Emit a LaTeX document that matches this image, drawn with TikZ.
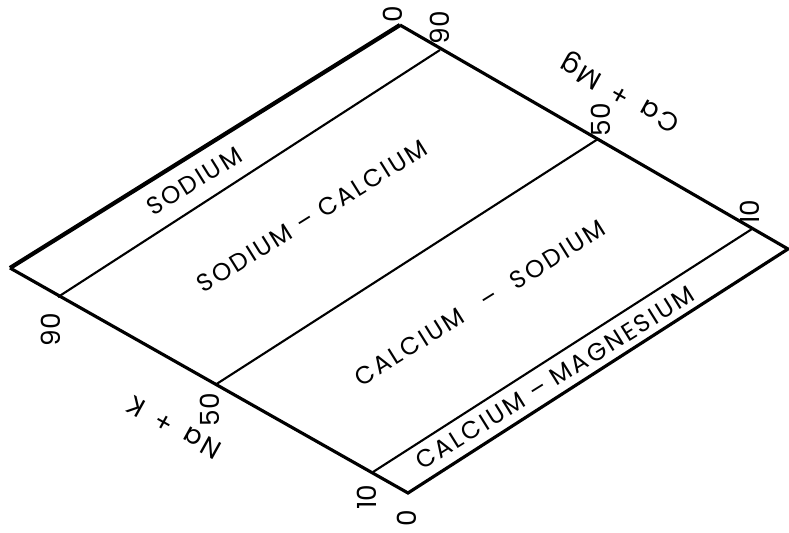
\documentclass[tikz,border=0pt]{standalone}
\usepackage{fontspec}
\setmainfont{Poppins}
\newfontfamily\lettrage[LetterSpace=10]{Poppins}

\begin{document}
\begin{tikzpicture}[x=0.02cm, y=-0.02cm,
  zone/.style={font=\lettrage\fontsize{14}{16}\selectfont, rotate=32, inner sep=0pt},
  graduation/.style={font=\fontsize{15}{17}\selectfont, rotate=90, inner sep=0pt},
  axe/.style={font=\lettrage\fontsize{15}{17}\selectfont, rotate=151, inner sep=0pt},
  bord/.style={line width=1.8pt},
  limite/.style={line width=1.2pt}]
\useasboundingbox (0,0) rectangle (789,533);

% Sommets du losange
\coordinate (G) at (10,268);
\coordinate (H) at (400,25);
\coordinate (D) at (788,249);
\coordinate (Bas) at (408,493);

% Extrémités des limites (Na+K en bas à gauche, Ca+Mg en haut à droite)
\coordinate (g90) at (58,297);
\coordinate (h90) at (440,50);
\coordinate (g50) at (215,385);
\coordinate (h50) at (598,139);
\coordinate (g10) at (373,472);
\coordinate (h10) at (752,229);

% Contour
\draw[bord, line width=2.4pt] (G) -- (H);
\draw[bord] (H) -- (D) -- (Bas) -- (G);

% Limites des faciès
\draw[limite] (g90) -- (h90);
\draw[limite] (g50) -- (h50);
\draw[limite] (g10) -- (h10);

% Noms des faciès
\node[zone] (sodium) at (194,181) {SODIUM};
\node[zone] (sodcal) at (312,216) {SODIUM – CALCIUM};
\node[zone] (calsod) at (480,303) {CALCIUM\hspace{0.6em} – \hspace{0.4em}SODIUM};
\node[zone] (calmag) at (555,378) {CALCIUM – MAGNESIUM};

% Graduations Ca + Mg
\node[graduation] (c0) at (393,14) {0};
\node[graduation] (c90) at (440,28) {90};
\node[graduation] (c50) at (601,120) {50};
\node[graduation] (c10) at (750,212) {10};
\node[axe] (camg) at (621,92) {Ca \hspace{0.2em}+\hspace{0.2em} Mg};

% Graduations Na + K
\node[graduation] (n90) at (51,330) {90};
\node[graduation] (n50) at (210,410) {50};
\node[graduation] (n10) at (367,497) {10};
\node[graduation] (n0) at (407,518) {0};
\node[axe] (nak) at (174,428) {Na \hspace{0.2em}+\hspace{0.2em} K};
\end{tikzpicture}
\end{document}
